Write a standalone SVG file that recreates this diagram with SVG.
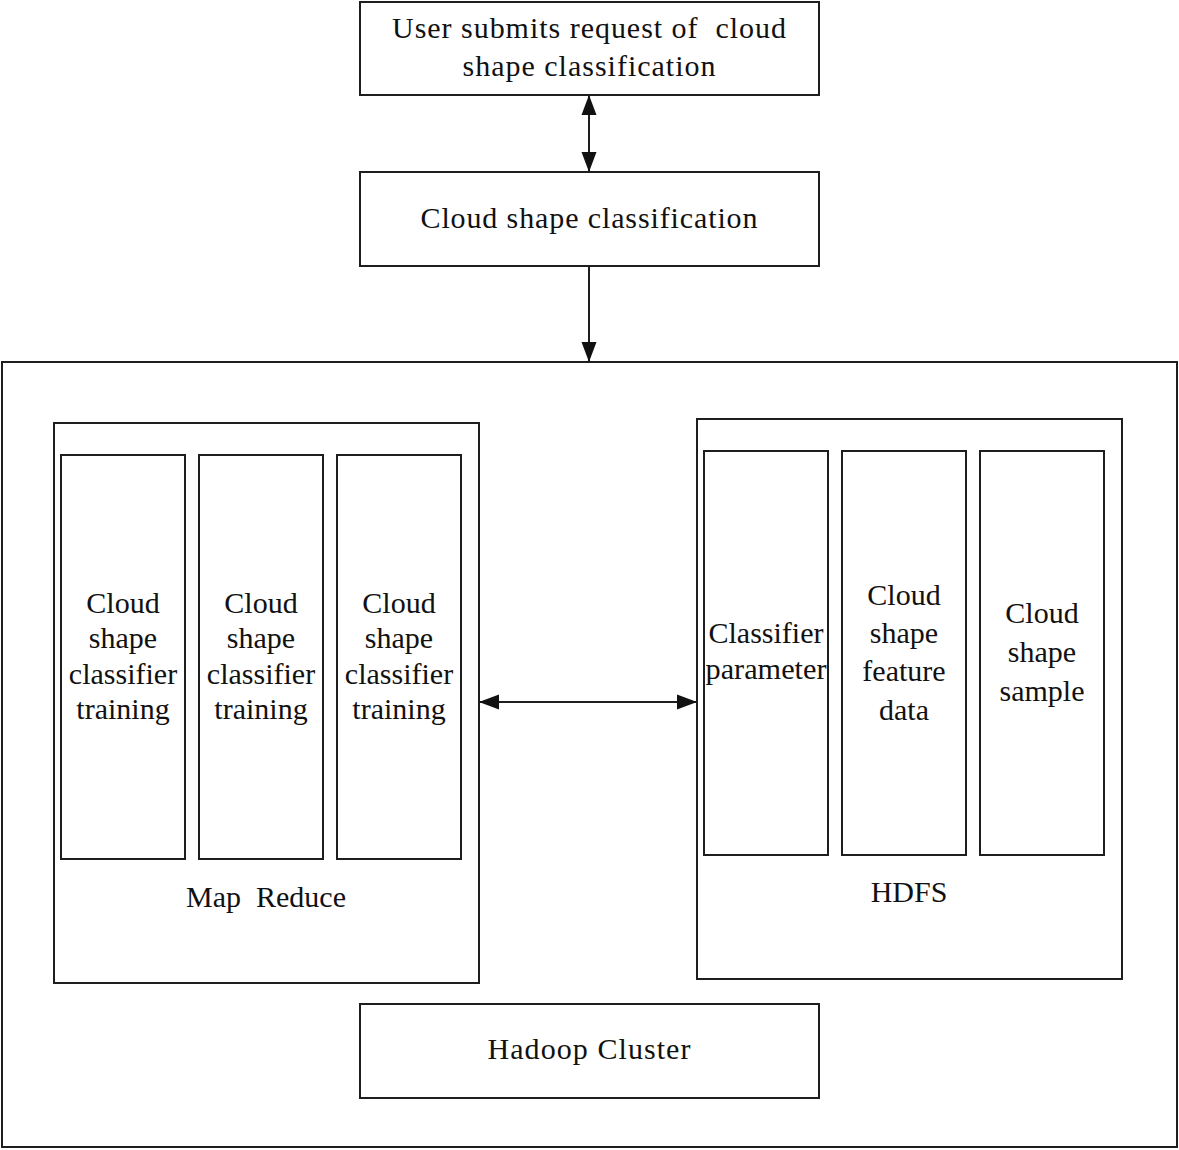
<svg xmlns="http://www.w3.org/2000/svg" width="1179" height="1150" viewBox="0 0 1179 1150">
<style>
.b{fill:none;stroke:#1e1e1e;stroke-width:2}
.t{font-family:"Liberation Serif","Times New Roman",serif;font-size:30px;fill:#111;text-anchor:middle}
.p{white-space:pre}
.c{stroke:#1e1e1e;stroke-width:2;fill:none}
</style>
<defs>
<marker id="ah" markerWidth="20" markerHeight="16" refX="19" refY="8" orient="auto-start-reverse" markerUnits="userSpaceOnUse">
<path d="M0,0.5 L20,8 L0,15.5 Z" fill="#111"/>
</marker>
</defs>
<rect width="1179" height="1150" fill="#fff"/>
<g id="user-request">
<rect class="b" x="360" y="2" width="459" height="93"/>
<text class="t p" x="589" y="38" textLength="394" lengthAdjust="spacing">User submits request of  cloud</text>
<text class="t" x="589" y="76" textLength="253" lengthAdjust="spacing">shape classification</text>
</g>
<g id="classification">
<rect class="b" x="360" y="172" width="459" height="94"/>
<text class="t" x="589" y="228" textLength="337" lengthAdjust="spacing">Cloud shape classification</text>
</g>
<g id="hadoop">
<rect class="b" x="2" y="362" width="1175" height="785"/>
</g>
<g id="mapreduce">
<rect class="b" x="54" y="423" width="425" height="560"/>
<text class="t p" x="266" y="907">Map  Reduce</text>
</g>
<g id="train1">
<rect class="b" x="61" y="455" width="124" height="404"/>
<text class="t" x="123" y="613">Cloud</text>
<text class="t" x="123" y="648">shape</text>
<text class="t" x="123" y="684">classifier</text>
<text class="t" x="123" y="719">training</text>
</g>
<g id="train2">
<rect class="b" x="199" y="455" width="124" height="404"/>
<text class="t" x="261" y="613">Cloud</text>
<text class="t" x="261" y="648">shape</text>
<text class="t" x="261" y="684">classifier</text>
<text class="t" x="261" y="719">training</text>
</g>
<g id="train3">
<rect class="b" x="337" y="455" width="124" height="404"/>
<text class="t" x="399" y="613">Cloud</text>
<text class="t" x="399" y="648">shape</text>
<text class="t" x="399" y="684">classifier</text>
<text class="t" x="399" y="719">training</text>
</g>
<g id="hdfs">
<rect class="b" x="697" y="419" width="425" height="560"/>
<text class="t" x="909" y="902">HDFS</text>
</g>
<g id="param">
<rect class="b" x="704" y="451" width="124" height="404"/>
<text class="t" x="766" y="643">Classifier</text>
<text class="t" x="766" y="679" textLength="121" lengthAdjust="spacingAndGlyphs">parameter</text>
</g>
<g id="feature">
<rect class="b" x="842" y="451" width="124" height="404"/>
<text class="t" x="904" y="605">Cloud</text>
<text class="t" x="904" y="643">shape</text>
<text class="t" x="904" y="681">feature</text>
<text class="t" x="904" y="720">data</text>
</g>
<g id="sample">
<rect class="b" x="980" y="451" width="124" height="404"/>
<text class="t" x="1042" y="623">Cloud</text>
<text class="t" x="1042" y="662">shape</text>
<text class="t" x="1042" y="701">sample</text>
</g>
<g id="cluster">
<rect class="b" x="360" y="1004" width="459" height="94"/>
<text class="t" x="589" y="1059" textLength="203" lengthAdjust="spacing">Hadoop Cluster</text>
</g>
<g id="connectors">
<line class="c" x1="589" y1="96" x2="589" y2="171" marker-start="url(#ah)" marker-end="url(#ah)"/>
<line class="c" x1="589" y1="266" x2="589" y2="361" marker-end="url(#ah)"/>
<line class="c" x1="480" y1="702" x2="696" y2="702" marker-start="url(#ah)" marker-end="url(#ah)"/>
</g>
</svg>
